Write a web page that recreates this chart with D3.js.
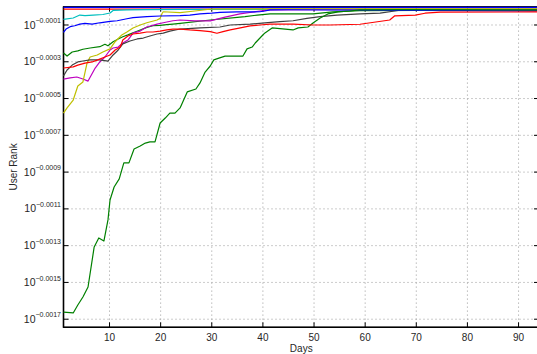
<!DOCTYPE html>
<html>
<head>
<meta charset="utf-8">
<script src="https://cdn.jsdelivr.net/npm/d3@7"></script>
<style>
    body { margin: 0; background: #fff; }
    svg { display: block; font-family: "Liberation Sans", Arial, Helvetica, sans-serif; }
</style>
</head>
<body>
<svg id="chart" width="537" height="354"></svg>
<script>

// log10(user rank) per day, in units of 1e-4 as [day, value]
let blueTop = [[1, -0.04], [94, -0.04]]
let greenUpper = [[1, -2.52], [1.7, -2.69], [2.7, -2.47], [3.8, -2.41], [4.8, -2.32], [6.2, -2.25], [8.1, -2.18], [9.1, -2.05], [9.7, -2.13], [10.7, -1.91], [11.7, -1.76], [12.6, -1.64], [13.6, -1.54], [14.6, -1.42], [16, -1.27], [17.3, -1.13], [18.5, -1.04], [19.9, -1.02], [21.2, -0.98], [22.4, -0.95], [23.8, -0.91], [29.7, -0.73], [35.5, -0.57], [36.5, -0.55], [38.9, -0.46], [41.4, -0.40], [49.8, -0.40], [53.7, -0.29], [59, -0.22], [70, -0.21], [94, -0.21]]
let redTop = [[1, -0.14], [94, -0.14]]
let cyanSeries = [[1, -0.69], [2.9, -0.62], [4.2, -0.46], [5.2, -0.49], [6.8, -0.46], [8.7, -0.43], [10.1, -0.35], [10.7, -0.21], [13.4, -0.18], [17.3, -0.16], [24, -0.15], [40, -0.15], [94, -0.15]]
let magentaSeries = [[1, -3.94], [2.3, -3.88], [3.6, -3.83], [4.8, -3.94], [5.8, -4.05], [7.2, -3.34], [8.1, -3.01], [9.1, -2.74], [10.1, -2.36], [10.7, -2.25], [11.7, -2.20], [12.6, -1.98], [13.6, -1.82], [14.6, -1.44], [16, -1.33], [17.3, -1.11], [19.3, -0.95], [20.5, -0.88], [22.4, -0.77], [23.8, -0.73], [26.7, -0.78], [29.7, -0.78], [32.6, -0.57], [35.5, -0.40], [37.5, -0.32], [39.4, -0.24], [41.4, -0.18], [50, -0.17], [94, -0.17]]
let yellowSeries = [[1, -5.79], [1.7, -5.51], [2.9, -5.08], [3.8, -4.32], [4.8, -4.10], [5.6, -3.07], [6.2, -2.74], [7.6, -2.63], [8.7, -2.47], [10.1, -2.30], [11.1, -1.91], [12.4, -1.54], [13.4, -1.38], [14.6, -1.16], [16, -1.0], [17.3, -0.88], [19.3, -0.73], [19.9, -0.64], [20.3, -0.36], [20.5, -0.28], [23.8, -0.33], [26.7, -0.24], [30, -0.13], [94, -0.12]]
let graySeries = [[1, -3.77], [1.7, -3.45], [2.7, -3.18], [3.8, -3.01], [4.8, -2.96], [6.2, -2.90], [8.1, -2.90], [9.7, -2.96], [10.7, -2.63], [11.7, -2.36], [12.6, -2.03], [14, -1.87], [15.4, -1.76], [16.6, -1.71], [17.9, -1.60], [19.3, -1.49], [20.5, -1.44], [21.8, -1.33], [23.8, -1.22], [27.7, -1.16], [31.6, -1.11], [33.6, -1.00], [37.5, -0.95], [40.4, -0.89], [43.3, -0.82], [45.9, -0.77], [48.6, -0.64], [51.2, -0.55], [54.5, -0.46], [59, -0.40], [62.9, -0.35], [66.8, -0.20], [94, -0.19]]
let blueSeries = [[1, -1.40], [1.5, -1.22], [2.3, -1.09], [3.2, -1.04], [4.2, -0.95], [5.2, -0.91], [6.6, -0.95], [8.1, -0.88], [10.1, -0.80], [11.5, -0.77], [13.4, -0.66], [14.6, -0.60], [17.3, -0.55], [19.9, -0.51], [23.8, -0.49], [25.7, -0.46], [27.7, -0.40], [30, -0.36], [31.6, -0.31], [34.9, -0.29], [39.4, -0.28], [40.4, -0.24], [41.4, -0.18], [45, -0.17], [94, -0.24]]
let greenLong = [[1, -16.61], [2.9, -16.66], [3.8, -16.23], [4.8, -15.79], [5.8, -15.25], [7.0, -13.07], [7.9, -12.58], [8.9, -12.75], [9.7, -11.60], [10.1, -10.52], [10.9, -9.81], [11.9, -9.37], [12.8, -8.50], [13.8, -8.50], [14.8, -7.74], [16, -7.58], [17, -7.42], [17.9, -7.36], [18.9, -7.36], [19.9, -6.33], [20.9, -6.06], [21.8, -5.79], [22.8, -5.79], [23.8, -5.51], [25.2, -4.64], [26.9, -4.48], [27.7, -4.15], [28.7, -3.56], [29.7, -3.23], [30.4, -2.90], [31.4, -2.80], [32.6, -2.69], [36.1, -2.69], [36.9, -2.30], [37.9, -2.20], [38.5, -1.98], [39.8, -1.60], [40.4, -1.43], [41.8, -1.16], [45.9, -1.27], [46.9, -1.16], [48.8, -1.11], [49.8, -0.89], [51.2, -0.62], [52.7, -0.40], [54.7, -0.29], [57, -0.24], [59, -0.18], [66.8, -0.16], [94, -0.18]]
let redSeries = [[1, -3.34], [2.9, -3.28], [3.8, -3.18], [5.2, -3.07], [6.6, -3.01], [7.7, -2.90], [9.1, -2.74], [10.1, -2.63], [11.1, -2.36], [12.1, -2.20], [12.6, -1.82], [13.6, -1.60], [14.6, -1.49], [16, -1.44], [17.3, -1.38], [18.5, -1.38], [19.9, -1.33], [21.2, -1.27], [22.4, -1.22], [23.8, -1.22], [25.7, -1.27], [27.7, -1.31], [29.7, -1.36], [31, -1.45], [32.2, -1.36], [33.6, -1.27], [35.1, -1.18], [37.5, -1.05], [39.4, -1.00], [41.4, -0.95], [45.9, -0.95], [49.8, -1.00], [53.1, -1.00], [59, -0.96], [64.8, -0.73], [65.8, -0.50], [69.8, -0.46], [71.7, -0.36], [74.7, -0.30], [94, -0.29]]

let seriesList = [blueTop, greenUpper, redTop, cyanSeries, magentaSeries, yellowSeries, graySeries, blueSeries, greenLong, redSeries]
let seriesColors = ["#0000ff", "#008000", "#ff0000", "#00bfbf", "#bf00bf", "#bfbf00", "#404040", "#0000ff", "#008000", "#ff0000"]

let xTicks = [10, 20, 30, 40, 50, 60, 70, 80, 90]
let yTicks = [-1, -3, -5, -7, -9, -11, -13, -15, -17]

let svg = d3.select("#chart")

let plotLeft = 63.5, plotRight = 539, plotTop = 6.6, plotBottom = 327.3

let x = d3.scaleLinear().domain([1, 94]).range([plotLeft, plotRight])
let y = d3.scaleLinear().domain([-17.44, 0]).range([plotBottom, plotTop])

// dotted grid
svg.append("g").selectAll("line")
    .data(xTicks)
    .join("line")
    .attr("x1", (d) => x(d)).attr("x2", (d) => x(d))
    .attr("y1", plotTop).attr("y2", plotBottom)
    .attr("stroke", "#999")
    .attr("stroke-width", 1)
    .attr("stroke-dasharray", "1,3")

svg.append("g").selectAll("line")
    .data(yTicks)
    .join("line")
    .attr("x1", plotLeft).attr("x2", plotRight)
    .attr("y1", (d) => y(d)).attr("y2", (d) => y(d))
    .attr("stroke", "#999")
    .attr("stroke-width", 1)
    .attr("stroke-dasharray", "1,3")

// box and inward ticks
let axisG = svg.append("g").attr("stroke", "#000").attr("fill", "none")
axisG.append("rect")
    .attr("x", plotLeft).attr("y", plotTop)
    .attr("width", plotRight - plotLeft).attr("height", plotBottom - plotTop)
    .attr("stroke-width", 1)
axisG.append("line")
    .attr("x1", plotLeft).attr("x2", plotLeft).attr("y1", plotTop).attr("y2", plotBottom + 0.5)
    .attr("stroke-width", 1.6)
axisG.append("line")
    .attr("x1", plotLeft).attr("x2", plotRight).attr("y1", plotBottom).attr("y2", plotBottom)
    .attr("stroke-width", 1.6)

xTicks.forEach(function (t) {
    axisG.append("line").attr("x1", x(t)).attr("x2", x(t)).attr("y1", plotBottom).attr("y2", plotBottom - 5)
    axisG.append("line").attr("x1", x(t)).attr("x2", x(t)).attr("y1", plotTop).attr("y2", plotTop + 5)
})
yTicks.forEach(function (t) {
    axisG.append("line").attr("x1", plotLeft).attr("x2", plotLeft + 5).attr("y1", y(t)).attr("y2", y(t))
    axisG.append("line").attr("x1", plotRight).attr("x2", plotRight - 5).attr("y1", y(t)).attr("y2", y(t))
})

// series lines
let GenLine = d3.line()
    .x((p) => x(p[0]))
    .y((p) => y(p[1]))

svg.append("g").selectAll("path")
    .data(seriesList)
    .join("path")
    .attr("d", (d) => GenLine(d))
    .attr("fill", "none")
    .attr("stroke", (d, i) => seriesColors[i])
    .attr("stroke-width", 1.2)
    .attr("stroke-linejoin", "round")

// x tick labels
svg.append("g").selectAll("text")
    .data(xTicks)
    .join("text")
    .attr("x", (d) => x(d))
    .attr("y", 341)
    .attr("text-anchor", "middle")
    .attr("font-size", "10px")
    .attr("fill", "#262626")
    .text((d) => d)

// y tick labels, 10 with the exponent raised
let yLabels = svg.append("g").selectAll("text")
    .data(yTicks)
    .join("text")
    .attr("x", 61)
    .attr("y", (d) => y(d) + 3.6)
    .attr("text-anchor", "end")
    .attr("fill", "#262626")
yLabels.append("tspan")
    .attr("font-size", "10.5px")
    .text("10")
yLabels.append("tspan")
    .attr("font-size", "7px")
    .attr("dy", -5.4)
    .text((d) => "\u2212" + (Math.abs(d) * 1e-4).toFixed(4))

// axis titles
svg.append("text")
    .attr("x", (plotLeft + plotRight) / 2)
    .attr("y", 352)
    .attr("text-anchor", "middle")
    .attr("font-size", "10px")
    .attr("fill", "#262626")
    .text("Days")

svg.append("text")
    .attr("transform", "translate(17," + ((plotTop + plotBottom) / 2) + ") rotate(-90)")
    .attr("text-anchor", "middle")
    .attr("font-size", "10px")
    .attr("fill", "#262626")
    .text("User Rank")

</script>
</body>
</html>
